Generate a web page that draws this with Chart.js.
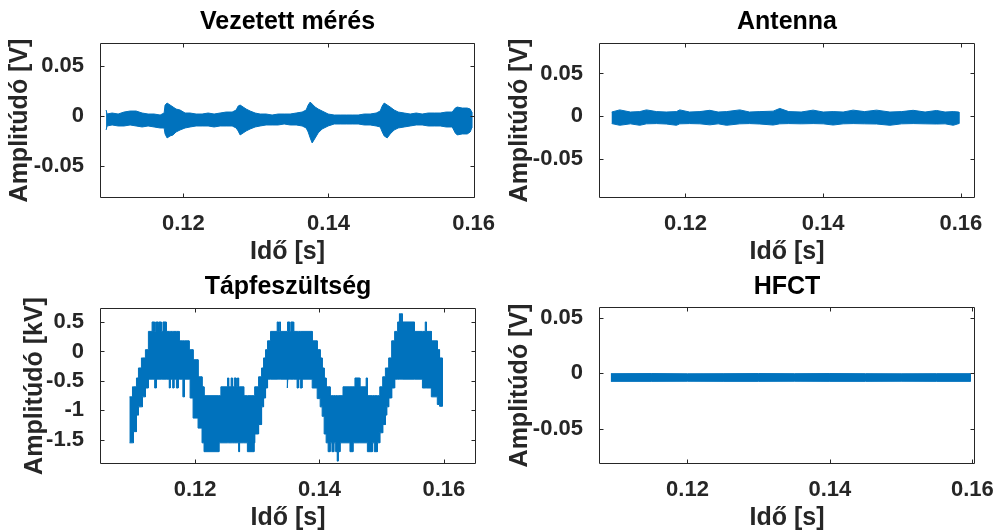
<!DOCTYPE html>
<html>
<head>
<meta charset="utf-8">
<script src="https://cdn.jsdelivr.net/npm/chart.js@4.4.1/dist/chart.umd.min.js"></script>
<style>
  html, body { margin: 0; padding: 0; background: #fff; }
  #wrap { position: relative; width: 1000px; height: 531px; overflow: hidden; }
  #wrap canvas { position: absolute; }
</style>
</head>
<body>
<div id="wrap">
  <canvas id="vezetett" width="500" height="265" style="left:0;top:0"></canvas>
  <canvas id="antenna" width="500" height="265" style="left:500px;top:0"></canvas>
  <canvas id="tapfesz" width="500" height="266" style="left:0;top:265px"></canvas>
  <canvas id="hfct" width="500" height="266" style="left:500px;top:265px"></canvas>
</div>
<script>
const FONT = '"Liberation Sans", Arial, Helvetica, sans-serif';
const BLUE = '#0072BD';
const AXIS = '#262626';

const xTicks = [0.12, 0.14, 0.16];
const xTickLabels = ['0.12', '0.14', '0.16'];
const vTicks = [-0.05, 0, 0.05];
const vTickLabels = ['-0.05', '0', '0.05'];
const kvTicks = [-1.5, -1, -0.5, 0, 0.5];
const kvTickLabels = ['-1.5', '-1', '-0.5', '0', '0.5'];

// Vezetett mérés - envelope (max / min) of the conducted signal, V
const vezT = [0.10934, 0.10948, 0.11017, 0.11100, 0.11182, 0.11265, 0.11348, 0.11431, 0.11513, 0.11596,
  0.11679, 0.11734, 0.11747, 0.11775, 0.11817, 0.11858, 0.11899, 0.11954, 0.12023, 0.12092,
  0.12175, 0.12258, 0.12341, 0.12423, 0.12506, 0.12589, 0.12672, 0.12727, 0.12755, 0.12782,
  0.12824, 0.12865, 0.12920, 0.12989, 0.13058, 0.13140, 0.13223, 0.13306, 0.13389, 0.13472,
  0.13555, 0.13637, 0.13692, 0.13720, 0.13748, 0.13775, 0.13817, 0.13858, 0.13913, 0.13996,
  0.14079, 0.14161, 0.14244, 0.14327, 0.14410, 0.14493, 0.14575, 0.14658, 0.14713, 0.14741,
  0.14768, 0.14810, 0.14851, 0.14906, 0.14962, 0.15044, 0.15127, 0.15210, 0.15292, 0.15375,
  0.15458, 0.15541, 0.15623, 0.15706, 0.15748, 0.15775, 0.15844, 0.15913, 0.15954, 0.15975];
const vezMax = [0.006, 0.002, 0.003, 0.002, 0.004, 0.005, 0.005, 0.003, 0.002, 0.002,
  0.001, 0.003, 0.011, 0.013, 0.011, 0.009, 0.007, 0.006, 0.003, 0.003,
  0.002, 0.002, 0.003, 0.002, 0.003, 0.004, 0.004, 0.006, 0.010, 0.011,
  0.009, 0.007, 0.005, 0.003, 0.002, 0.002, 0.001, 0.002, 0.002, 0.002,
  0.003, 0.004, 0.006, 0.011, 0.014, 0.012, 0.009, 0.007, 0.005, 0.002,
  0.001, 0.001, 0.001, 0.001, 0.001, 0.002, 0.002, 0.003, 0.005, 0.010,
  0.013, 0.011, 0.009, 0.006, 0.004, 0.003, 0.002, 0.003, 0.002, 0.003,
  0.003, 0.003, 0.004, 0.004, 0.008, 0.009, 0.008, 0.008, 0.007, 0.004];
const vezMin = [-0.014, -0.010, -0.009, -0.010, -0.010, -0.009, -0.010, -0.011, -0.010, -0.011,
  -0.012, -0.012, -0.018, -0.022, -0.020, -0.019, -0.016, -0.014, -0.012, -0.011,
  -0.010, -0.010, -0.010, -0.011, -0.010, -0.010, -0.010, -0.012, -0.015, -0.019,
  -0.017, -0.015, -0.013, -0.011, -0.010, -0.009, -0.009, -0.009, -0.008, -0.009,
  -0.009, -0.010, -0.012, -0.016, -0.022, -0.027, -0.022, -0.017, -0.013, -0.010,
  -0.008, -0.008, -0.008, -0.008, -0.008, -0.009, -0.009, -0.010, -0.011, -0.016,
  -0.020, -0.022, -0.018, -0.014, -0.012, -0.011, -0.010, -0.009, -0.009, -0.010,
  -0.010, -0.010, -0.011, -0.011, -0.017, -0.019, -0.018, -0.018, -0.016, -0.012];

// Antenna - envelope, V
const antT = [0.10929, 0.11045, 0.11200, 0.11336, 0.11433, 0.11580, 0.11720, 0.11869, 0.11917, 0.12060,
  0.12210, 0.12353, 0.12475, 0.12596, 0.12789, 0.12930, 0.13080, 0.13273, 0.13370, 0.13500,
  0.13680, 0.13854, 0.14000, 0.14145, 0.14290, 0.14435, 0.14600, 0.14775, 0.14969, 0.15140,
  0.15307, 0.15480, 0.15647, 0.15770, 0.15889, 0.15971];
const antMax = [0.0050, 0.0075, 0.0050, 0.0055, 0.0075, 0.0055, 0.0050, 0.0055, 0.0075, 0.0050,
  0.0055, 0.0070, 0.0050, 0.0055, 0.0075, 0.0050, 0.0055, 0.0060, 0.0092, 0.0055,
  0.0050, 0.0072, 0.0050, 0.0055, 0.0050, 0.0072, 0.0055, 0.0072, 0.0050, 0.0055,
  0.0070, 0.0050, 0.0068, 0.0050, 0.0055, 0.0050];
const antMin = [-0.0085, -0.0105, -0.0088, -0.0105, -0.0088, -0.0085, -0.0090, -0.0105, -0.0088, -0.0085,
  -0.0088, -0.0100, -0.0088, -0.0105, -0.0088, -0.0085, -0.0090, -0.0102, -0.0088, -0.0085,
  -0.0088, -0.0085, -0.0088, -0.0102, -0.0088, -0.0085, -0.0088, -0.0090, -0.0105, -0.0088,
  -0.0085, -0.0088, -0.0090, -0.0088, -0.0105, -0.0085];

// Tápfeszültség - quantised supply voltage envelope, kV (each level holds until the next time)
const tapT = [0.10947, 0.10994, 0.11010, 0.11058, 0.11090, 0.11138, 0.11154, 0.11202, 0.11250, 0.11309,
  0.11351, 0.11367, 0.11377, 0.11405, 0.11420, 0.11458, 0.11484, 0.11537, 0.11585, 0.11600,
  0.11640, 0.11660, 0.11700, 0.11729, 0.11745, 0.11804, 0.11830, 0.11904, 0.11920, 0.11968,
  0.12048, 0.12112, 0.12144, 0.12383, 0.12415, 0.12522, 0.12540, 0.12580, 0.12600, 0.12630,
  0.12660, 0.12681, 0.12700, 0.12715, 0.12782, 0.12841, 0.12900, 0.12910, 0.12947, 0.12958,
  0.13021, 0.13069, 0.13101, 0.13133, 0.13165, 0.13213, 0.13320, 0.13340, 0.13355, 0.13373,
  0.13480, 0.13490, 0.13520, 0.13540, 0.13585, 0.13640, 0.13660, 0.13690, 0.13719, 0.13883,
  0.13963, 0.14011, 0.14043, 0.14075, 0.14107, 0.14139, 0.14171, 0.14200, 0.14230, 0.14260,
  0.14285, 0.14300, 0.14330, 0.14378, 0.14490, 0.14538, 0.14570, 0.14649, 0.14750, 0.14770,
  0.14850, 0.14880, 0.14930, 0.14969, 0.15016, 0.15060, 0.15080, 0.15112, 0.15160, 0.15208,
  0.15256, 0.15285, 0.15300, 0.15315, 0.15330, 0.15527, 0.15655, 0.15700, 0.15720, 0.15798,
  0.15894, 0.15930, 0.15974];
const tapMax = [-0.77, -0.60, -0.60, -0.45, -0.28, -0.11, -0.11, 0.03, 0.34, 0.50,
  0.34, 0.50, 0.50, 0.34, 0.50, 0.34, 0.50, 0.34, 0.34, 0.34,
  0.34, 0.34, 0.34, 0.34, 0.18, 0.18, 0.18, 0.03, 0.03, -0.14,
  -0.43, -0.60, -0.75, -0.75, -0.60, -0.45, -0.60, -0.45, -0.60, -0.45,
  -0.60, -0.45, -0.60, -0.60, -0.75, -0.75, -0.75, -0.75, -0.75, -0.60,
  -0.43, -0.28, -0.11, 0.03, 0.18, 0.34, 0.50, 0.34, 0.50, 0.34,
  0.34, 0.50, 0.34, 0.50, 0.34, 0.34, 0.34, 0.34, 0.34, 0.18,
  0.03, -0.11, -0.28, -0.45, -0.60, -0.60, -0.75, -0.75, -0.75, -0.75,
  -0.75, -0.75, -0.75, -0.60, -0.60, -0.60, -0.45, -0.60, -0.45, -0.75,
  -0.75, -0.75, -0.75, -0.60, -0.43, -0.28, -0.28, -0.11, 0.18, 0.34,
  0.50, 0.64, 0.50, 0.64, 0.50, 0.34, 0.34, 0.50, 0.34, 0.18,
  0.03, -0.11, -0.11];
const tapMin = [-1.55, -1.55, -1.36, -1.08, -0.94, -0.94, -0.77, -0.62, -0.47, -0.47,
  -0.62, -0.62, -0.47, -0.47, -0.47, -0.47, -0.47, -0.47, -0.62, -0.47,
  -0.62, -0.47, -0.62, -0.47, -0.47, -0.77, -0.47, -0.47, -0.79, -1.13,
  -1.30, -1.55, -1.70, -1.55, -1.55, -1.55, -1.55, -1.55, -1.55, -1.55,
  -1.55, -1.55, -1.70, -1.55, -1.55, -1.70, -1.55, -1.70, -1.55, -1.40,
  -1.24, -0.94, -0.79, -0.62, -0.47, -0.47, -0.47, -0.47, -0.47, -0.47,
  -0.62, -0.47, -0.47, -0.47, -0.47, -0.62, -0.47, -0.62, -0.47, -0.62,
  -0.80, -0.94, -1.10, -1.40, -1.55, -1.70, -1.55, -1.70, -1.55, -1.70,
  -1.86, -1.70, -1.55, -1.55, -1.70, -1.55, -1.55, -1.55, -1.55, -1.70,
  -1.55, -1.70, -1.55, -1.38, -1.24, -1.08, -0.94, -0.79, -0.62, -0.47,
  -0.47, -0.47, -0.47, -0.47, -0.47, -0.47, -0.62, -0.62, -0.62, -0.77,
  -0.90, -0.93, -0.93];

// HFCT - envelope, V
const hfT = [0.10925, 0.11500, 0.12000, 0.12500, 0.13000, 0.13500, 0.14000, 0.14500, 0.15000, 0.15500, 0.15971];
const hfMax = [-0.0003, -0.0002, -0.0004, -0.0003, -0.0002, -0.0003, -0.0002, -0.0003, -0.0004, -0.0003, -0.0003];
const hfMin = [-0.0072, -0.0072, -0.0071, -0.0072, -0.0072, -0.0071, -0.0072, -0.0072, -0.0071, -0.0072, -0.0072];

// box around the axes with inward ticks on all four sides
const axesBox = {
  id: 'axesBox',
  afterDatasetsDraw(chart) {
    const { ctx, chartArea: a, scales: { x, y } } = chart;
    const L = Math.round(a.left) + 0.5, R = Math.round(a.right) - 0.5;
    const T = Math.round(a.top) + 0.5, B = Math.round(a.bottom) - 0.5;
    const len = 4;
    ctx.save();
    ctx.strokeStyle = AXIS;
    ctx.lineWidth = 1;
    ctx.beginPath();
    ctx.rect(L, T, R - L, B - T);
    x.ticks.forEach(t => {
      const px = Math.round(x.getPixelForValue(t.value)) + 0.5;
      ctx.moveTo(px, B); ctx.lineTo(px, B - len);
      ctx.moveTo(px, T); ctx.lineTo(px, T + len);
    });
    y.ticks.forEach(t => {
      const py = Math.round(y.getPixelForValue(t.value)) + 0.5;
      ctx.moveTo(L, py); ctx.lineTo(L + len, py);
      ctx.moveTo(R, py); ctx.lineTo(R - len, py);
    });
    ctx.stroke();
    ctx.restore();
  }
};

// outline of the signal band: max envelope left to right, then min envelope back;
// a stepped signal keeps each level up to the next time
function bandOutline(t, max, min, stepped) {
  const trace = (vals) => {
    const pts = [];
    t.forEach((ti, i) => {
      pts.push({ x: ti, y: vals[i] });
      if (stepped && i < t.length - 1) pts.push({ x: t[i + 1], y: vals[i] });
    });
    return pts;
  };
  return trace(max).concat(trace(min).reverse());
}

function makePanel(id, p) {
  const bold = (size, lineHeight) => ({ family: FONT, size, weight: 'bold', lineHeight });
  return new Chart(document.getElementById(id), {
    type: 'line',
    data: {
      datasets: [{
        data: bandOutline(p.t, p.max, p.min, p.stepped),
        borderColor: BLUE,
        backgroundColor: BLUE,
        borderWidth: 1,
        pointRadius: 0,
        tension: 0,
        fill: 'shape'
      }]
    },
    options: {
      responsive: false,
      animation: false,
      events: [],
      layout: { padding: { left: 0, right: p.padRight, top: 0, bottom: 0 } },
      plugins: {
        legend: { display: false },
        tooltip: { enabled: false },
        title: {
          display: true,
          text: p.title,
          fullSize: false,
          color: '#000',
          font: bold(25, 1),
          padding: { top: 10, bottom: p.titleGap }
        }
      },
      scales: {
        x: {
          type: 'linear',
          min: p.xMin,
          max: p.xMax,
          grid: { display: false },
          border: { display: false },
          afterBuildTicks: s => { s.ticks = xTicks.map(v => ({ value: v })); },
          afterFit: s => { s.height = 67; s.paddingLeft = 0; s.paddingRight = 0; },
          ticks: {
            autoSkip: false, maxRotation: 0, minRotation: 0, padding: 5,
            color: AXIS, font: bold(22, 1.2),
            callback: (v, i) => xTickLabels[i]
          },
          title: {
            display: true, text: 'Idő [s]', color: AXIS,
            font: bold(25, 1), padding: { top: 0, bottom: 0 }
          }
        },
        y: {
          type: 'linear',
          min: p.yMin,
          max: p.yMax,
          grid: { display: false },
          border: { display: false },
          afterBuildTicks: s => { s.ticks = p.yTicks.map(v => ({ value: v })); },
          afterFit: s => { s.width = p.yWidth; s.paddingTop = 0; s.paddingBottom = 0; },
          ticks: {
            autoSkip: false, padding: 8,
            color: AXIS, font: bold(22, 1.2),
            callback: (v, i) => p.yTickLabels[i]
          },
          title: {
            display: true, text: p.yTitle, color: AXIS,
            font: bold(25, 1), padding: { top: p.yTitlePad, bottom: 0 }
          }
        }
      }
    },
    plugins: [axesBox]
  });
}

makePanel('vezetett', {
  title: 'Vezetett mérés', yTitle: 'Amplitúdó [V]',
  t: vezT, max: vezMax, min: vezMin,
  xMin: 0.1085, xMax: 0.1602, yMin: -0.0823, yMax: 0.0733,
  yTicks: vTicks, yTickLabels: vTickLabels,
  yWidth: 100, padRight: 25, titleGap: 8, yTitlePad: 8
});

makePanel('antenna', {
  title: 'Antenna', yTitle: 'Amplitúdó [V]',
  t: antT, max: antMax, min: antMin,
  xMin: 0.10744, xMax: 0.16205, yMin: -0.0954, yMax: 0.0856,
  yTicks: vTicks, yTickLabels: vTickLabels,
  yWidth: 99, padRight: 25, titleGap: 8, yTitlePad: 8
});

makePanel('tapfesz', {
  title: 'Tápfeszültség', yTitle: 'Amplitúdó [kV]',
  t: tapT, max: tapMax, min: tapMin, stepped: true,
  xMin: 0.10472, xMax: 0.16516, yMin: -1.909, yMax: 0.737,
  yTicks: kvTicks, yTickLabels: kvTickLabels,
  yWidth: 100, padRight: 24, titleGap: 8, yTitlePad: 23
});

makePanel('hfct', {
  title: 'HFCT', yTitle: 'Amplitúdó [V]',
  t: hfT, max: hfMax, min: hfMin,
  xMin: 0.10758, xMax: 0.16037, yMin: -0.0813, yMax: 0.0595,
  yTicks: vTicks, yTickLabels: vTickLabels,
  yWidth: 99, padRight: 25, titleGap: 7, yTitlePad: 8
});
</script>
</body>
</html>
